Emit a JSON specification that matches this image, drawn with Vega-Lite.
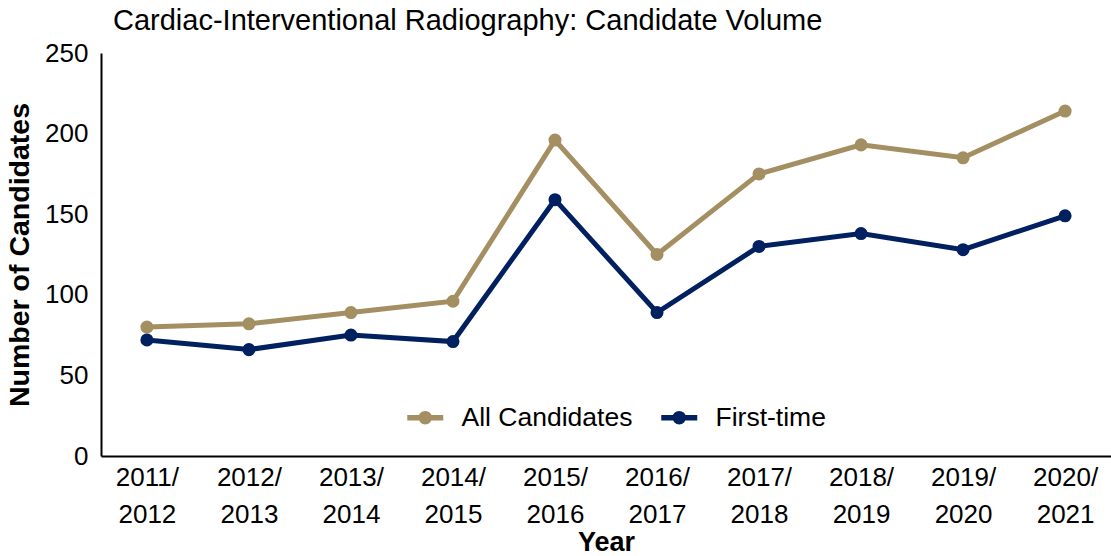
{
  "$schema": "https://vega.github.io/schema/vega-lite/v6.json",
  "width": 1010,
  "height": 403,
  "autosize": {"type": "none"},
  "padding": {"left": 101, "top": 53, "right": 0, "bottom": 100},
  "background": "white",
  "title": {"text": "Cardiac-Interventional Radiography: Candidate Volume", "anchor": "start", "frame": "group", "dx": 12, "offset": 4, "font": "Liberation Sans", "fontSize": 29, "fontWeight": "normal", "color": "#000000"},
  "config": {"view": {"stroke": null}, "font": "Liberation Sans"},
  "data": {"values": [
    {"year": "2011/2012", "series": "All Candidates", "n": 80},
    {"year": "2012/2013", "series": "All Candidates", "n": 82},
    {"year": "2013/2014", "series": "All Candidates", "n": 89},
    {"year": "2014/2015", "series": "All Candidates", "n": 96},
    {"year": "2015/2016", "series": "All Candidates", "n": 196},
    {"year": "2016/2017", "series": "All Candidates", "n": 125},
    {"year": "2017/2018", "series": "All Candidates", "n": 175},
    {"year": "2018/2019", "series": "All Candidates", "n": 193},
    {"year": "2019/2020", "series": "All Candidates", "n": 185},
    {"year": "2020/2021", "series": "All Candidates", "n": 214},
    {"year": "2011/2012", "series": "First-time", "n": 72},
    {"year": "2012/2013", "series": "First-time", "n": 66},
    {"year": "2013/2014", "series": "First-time", "n": 75},
    {"year": "2014/2015", "series": "First-time", "n": 71},
    {"year": "2015/2016", "series": "First-time", "n": 159},
    {"year": "2016/2017", "series": "First-time", "n": 89},
    {"year": "2017/2018", "series": "First-time", "n": 130},
    {"year": "2018/2019", "series": "First-time", "n": 138},
    {"year": "2019/2020", "series": "First-time", "n": 128},
    {"year": "2020/2021", "series": "First-time", "n": 149}
  ]},
  "mark": {"type": "line", "strokeWidth": 5, "point": {"filled": true, "size": 170}},
  "encoding": {
    "x": {"field": "year", "type": "ordinal", "scale": {"type": "point", "padding": 0.45},
      "axis": {"title": "Year", "titleFontSize": 27, "titleFontWeight": "bold", "titleColor": "#000", "titlePadding": 2,
        "labelAngle": 0, "labelFontSize": 26, "labelColor": "#000", "labelExpr": "[slice(datum.label,0,5), slice(datum.label,5)]", "labelLineHeight": 37, "labelPadding": 8,
        "ticks": false, "domainColor": "#000", "domainWidth": 2, "grid": false}},
    "y": {"field": "n", "type": "quantitative", "scale": {"domain": [0, 250]},
      "axis": {"title": "Number of Candidates", "titleFontSize": 28.5, "titleFontWeight": "bold", "titleColor": "#000", "titlePadding": 10,
        "values": [0, 50, 100, 150, 200, 250], "labelFontSize": 26, "labelColor": "#000", "labelPadding": 13,
        "ticks": false, "domainColor": "#000", "domainWidth": 2, "grid": false}},
    "color": {"field": "series", "type": "nominal", "scale": {"domain": ["All Candidates", "First-time"], "range": ["#A38F62", "#002060"]},
      "legend": {"title": null, "orient": "none", "direction": "horizontal", "legendX": 311, "legendY": 351, "labelFontSize": 26.5, "labelLimit": 0, "labelColor": "#000", "symbolSize": 400, "symbolStrokeWidth": 5.5, "columnPadding": 17, "labelOffset": 23,
        "symbolType": "M-1.8,0H1.8M0,-0.4A0.4,0.4 0 1 1 0,0.4A0.4,0.4 0 1 1 0,-0.4Z"}}
  }
}
